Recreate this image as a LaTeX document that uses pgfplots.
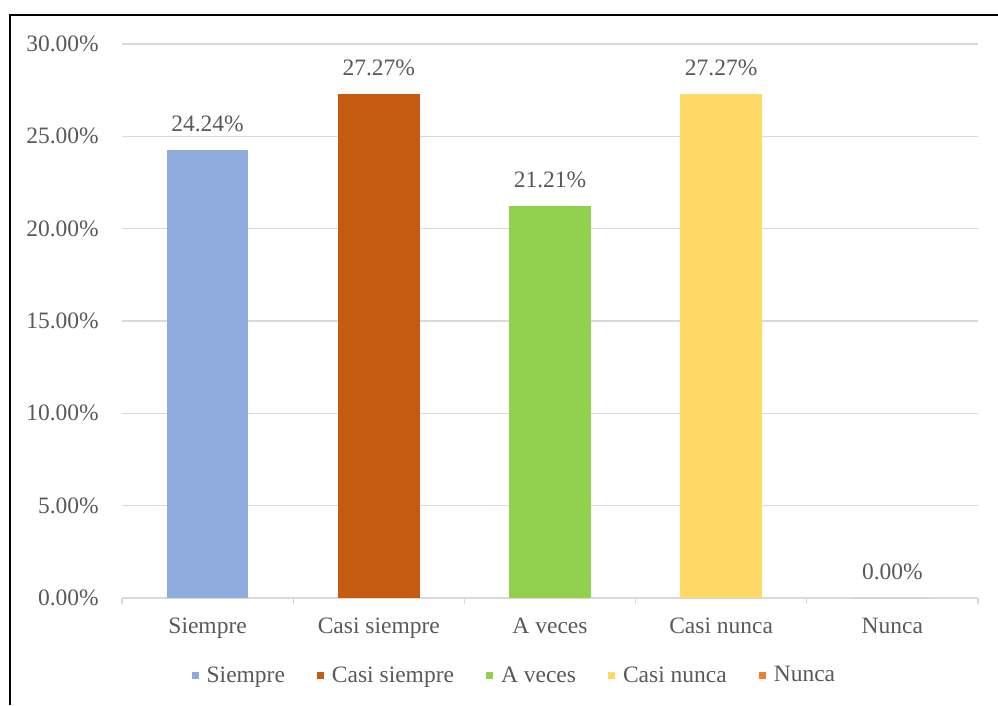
\documentclass[border=0pt]{standalone}
\usepackage{pgfplots}
\pgfplotsset{compat=1.18}
\usepackage{fontspec}
\setmainfont{Liberation Serif}

\definecolor{textgray}{HTML}{595959}
\definecolor{gridgray}{HTML}{D9D9D9}
\definecolor{cSiempre}{HTML}{8FAADC}
\definecolor{cCasiSiempre}{HTML}{C55A11}
\definecolor{cAVeces}{HTML}{92D050}
\definecolor{cCasiNunca}{HTML}{FFD966}
\definecolor{cNunca}{HTML}{ED7D31}

\newcommand{\chartfont}{\fontsize{23.5}{28}\selectfont}

\begin{document}
\begin{tikzpicture}
\useasboundingbox (0pt,0pt) rectangle (998pt,705pt);
% outer frame (left and top edges)
\draw[line width=2pt, black] (10pt,0pt) -- (10pt,690pt) -- (998pt,690pt);

\begin{axis}[
  at={(122pt,107pt)}, anchor=south west,
  scale only axis,
  width=856pt, height=554pt,
  xmin=-0.5, xmax=4.5,
  ymin=0, ymax=30,
  enlargelimits=false,
  ybar, bar width=0.477,
  axis x line*=bottom,
  axis y line*=left,
  y axis line style={draw=none},
  x axis line style={draw=gridgray, line width=1.3pt},
  ymajorgrids,
  grid style={draw=gridgray, line width=1.3pt},
  ytick={0,5,...,30},
  yticklabel={\pgfmathprintnumber[fixed,fixed zerofill,precision=2]{\tick}\%},
  yticklabel style={anchor=east, inner sep=0pt, xshift=-23pt},
  xtick={0,1,2,3,4},
  xticklabels={Siempre, Casi siempre, A veces, Casi nunca, Nunca},
  xticklabel style={anchor=north, inner sep=0pt, yshift=-20pt},
  minor xtick={-0.5,0.5,1.5,2.5,3.5,4.5},
  major tick length=0pt,
  minor tick length=6pt,
  tick align=outside,
  minor tick style={draw=gridgray, line width=1.3pt},
  ticklabel style={font=\chartfont, text=textgray},
  /pgf/number format/assume math mode=true,
  nodes near coords={\pgfmathprintnumber[fixed,fixed zerofill,precision=2,assume math mode=true]{\pgfplotspointmeta}\%},
  every node near coord/.append style={font=\chartfont, text=textgray, anchor=south, inner sep=0pt, yshift=18pt},
  legend columns=5,
  legend style={
    at={(0.459,-0.139)}, anchor=center,
    draw=none, fill=none,
    font=\chartfont, text=textgray,
    nodes={inner sep=3pt},
    /tikz/every odd column/.append style={column sep=5pt},
    /tikz/every even column/.append style={column sep=29pt},
  },
  legend image code/.code={\fill[#1] (0pt,-3.5pt) rectangle (7pt,3.5pt);},
]
\addplot[fill=cSiempre, draw=none, bar shift=0pt] coordinates {(0,24.24)};
\addlegendentry{Siempre}
\addplot[fill=cCasiSiempre, draw=none, bar shift=0pt] coordinates {(1,27.27)};
\addlegendentry{Casi siempre}
\addplot[fill=cAVeces, draw=none, bar shift=0pt] coordinates {(2,21.21)};
\addlegendentry{A veces}
\addplot[fill=cCasiNunca, draw=none, bar shift=0pt] coordinates {(3,27.27)};
\addlegendentry{Casi nunca}
\addplot[fill=cNunca, draw=none, bar shift=0pt] coordinates {(4,0)};
\addlegendentry{Nunca}
\end{axis}
\end{tikzpicture}
\end{document}
